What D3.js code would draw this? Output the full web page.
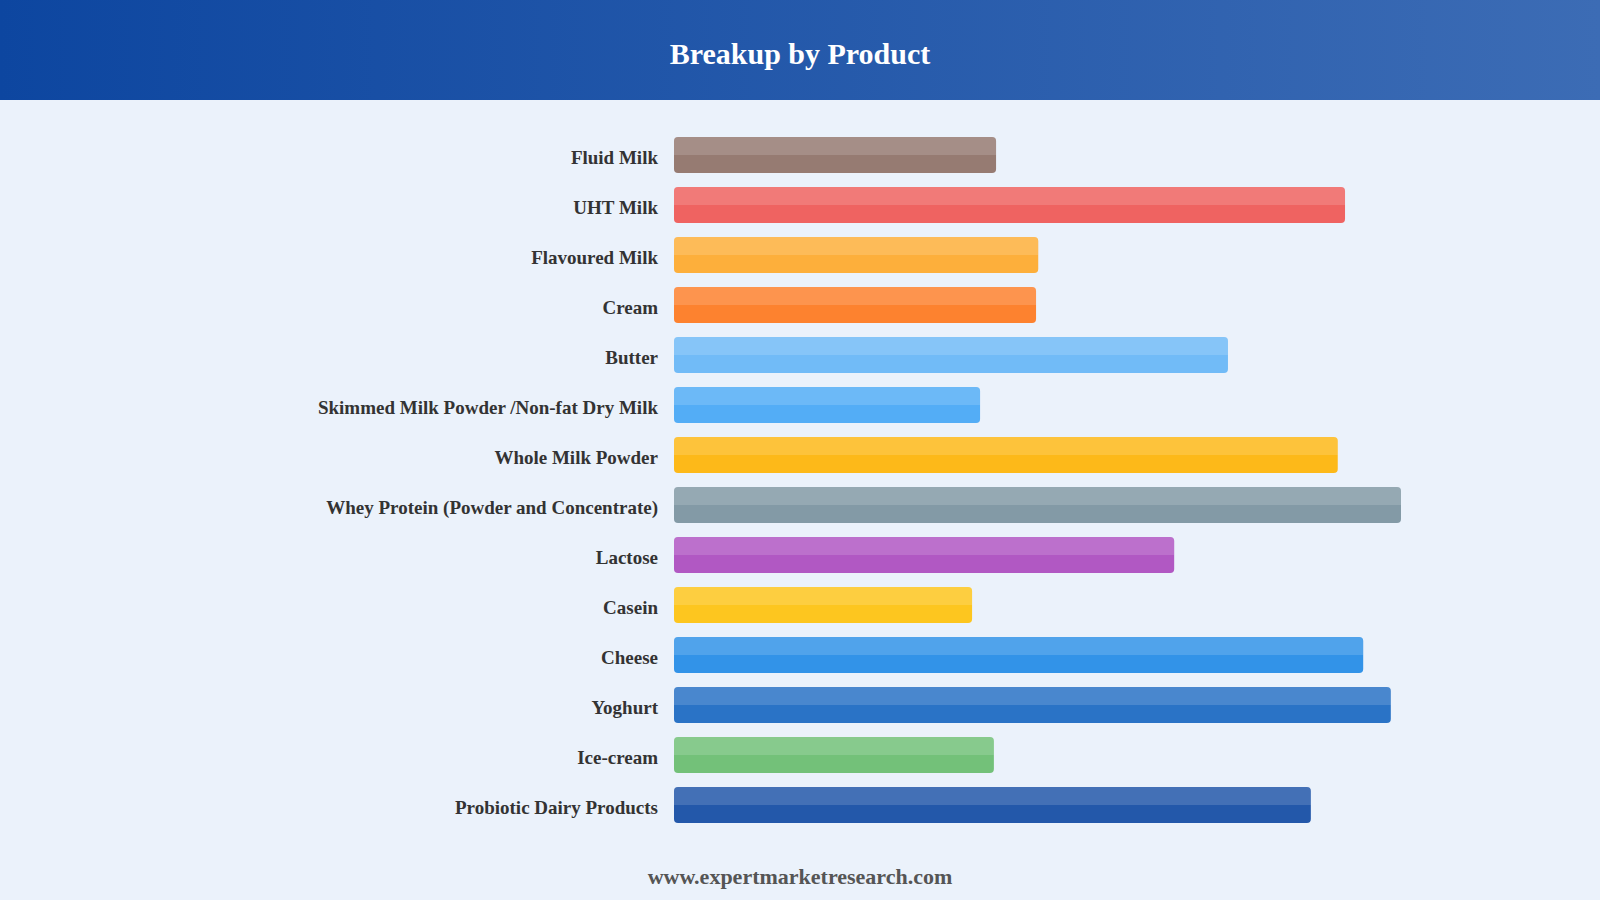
<!DOCTYPE html>
<html>
<head>
<meta charset="utf-8">
<script src="https://cdn.jsdelivr.net/npm/d3@7"></script>
<style>
  html, body { margin: 0; padding: 0; background: #ebf2fb; }
  svg { display: block; }
  .barLabel { font-family: "Liberation Serif", "Times New Roman", serif; font-weight: bold; font-size: 19px; fill: #333; }
  .title { font-family: "Liberation Serif", "Times New Roman", serif; font-weight: bold; font-size: 30px; fill: #fff; }
  .footer { font-family: "Liberation Serif", "Times New Roman", serif; font-weight: bold; font-size: 22px; fill: #555; }
</style>
</head>
<body>
<svg></svg>
<script>
var width = 1600;
var height = 900;

var products = ["Fluid Milk", "UHT Milk", "Flavoured Milk", "Cream", "Butter",
  "Skimmed Milk Powder /Non-fat Dry Milk", "Whole Milk Powder",
  "Whey Protein (Powder and Concentrate)", "Lactose", "Casein", "Cheese",
  "Yoghurt", "Ice-cream", "Probiotic Dairy Products"];
var values = [44.3, 92.3, 50.1, 49.8, 76.2, 42.1, 91.3, 100, 68.8, 41.0, 94.8, 98.6, 44.0, 87.6];
var colors = ["#8d6e63", "#ef5350", "#ffa726", "#ff7518", "#64b5f6", "#42a5f5", "#ffb300",
  "#78909c", "#ab47bc", "#ffc107", "#1e88e5", "#1565c0", "#66bb6a", "#0d47a1"];

var data = products.map(function(p, i){
  return {name: p, value: values[i], color: colors[i]};
});

var svg = d3.select("svg").attr("width", width).attr("height", height);

// header band
var defs = svg.append("defs");
var grad = defs.append("linearGradient").attr("id", "hdr")
  .attr("x1", "0%").attr("x2", "100%").attr("y1", "0%").attr("y2", "0%");
grad.append("stop").attr("offset", "0%").attr("stop-color", "#0d46a0");
grad.append("stop").attr("offset", "100%").attr("stop-color", "#3c6cb5");

svg.append("rect").attr("x", 0).attr("y", 0).attr("width", width).attr("height", 100)
  .attr("fill", "url(#hdr)");
svg.append("text").attr("class", "title")
  .attr("x", width / 2).attr("y", 64).attr("text-anchor", "middle")
  .text("Breakup by Product");

var x = d3.scaleLinear().domain([0, 100]).range([674, 1401]);
var y = d3.scaleBand().domain(products).range([130, 830]).paddingInner(0.28).paddingOuter(0.14);

var rows = svg.append("g").selectAll("g").data(data).enter().append("g");

rows.append("rect")
  .attr("x", x(0))
  .attr("y", function(d){ return y(d.name); })
  .attr("width", function(d){ return x(d.value) - x(0); })
  .attr("height", y.bandwidth())
  .attr("rx", 4).attr("ry", 4)
  .attr("fill", function(d){ return d.color; })
  .attr("fill-opacity", 0.9);

// lighter upper half
rows.append("path")
  .attr("d", function(d){
    var x0 = x(0), x1 = x(d.value), y0 = y(d.name), h = y.bandwidth() / 2, r = 4;
    return "M" + x0 + "," + (y0 + h) + "V" + (y0 + r) + "Q" + x0 + "," + y0 + " " + (x0 + r) + "," + y0 +
      "H" + (x1 - r) + "Q" + x1 + "," + y0 + " " + x1 + "," + (y0 + r) + "V" + (y0 + h) + "Z";
  })
  .attr("fill", "#fff")
  .attr("fill-opacity", 0.15);

rows.append("text").attr("class", "barLabel")
  .attr("x", x(0) - 16)
  .attr("y", function(d){ return y(d.name) + y.bandwidth() / 2 + 2; })
  .attr("dy", "0.35em")
  .attr("text-anchor", "end")
  .text(function(d){ return d.name; });

svg.append("text").attr("class", "footer")
  .attr("x", width / 2).attr("y", 884).attr("text-anchor", "middle")
  .text("www.expertmarketresearch.com");
</script>
</body>
</html>
